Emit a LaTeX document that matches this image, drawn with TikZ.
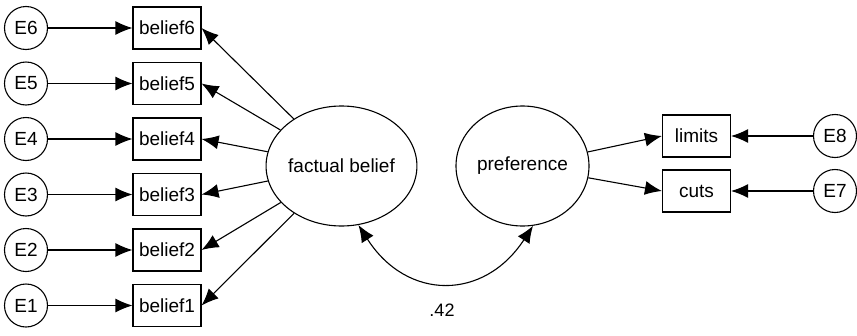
\documentclass[tikz,border=0pt]{standalone}
\usepackage{fontspec}
\setmainfont{Liberation Sans}
\usetikzlibrary{shapes.geometric,arrows.meta}
\begin{document}
\begin{tikzpicture}[x=1pt,y=-1pt,
  every node/.style={font=\fontsize{19}{19}\selectfont},
  errc/.style={draw,circle,line width=1.1pt,minimum size=43pt,inner sep=0pt},
  obsbox/.style={draw,rectangle,line width=1.1pt,minimum width=68pt,minimum height=42pt,inner sep=0pt},
  latent/.style={draw,ellipse,line width=1.1pt,minimum width=133pt,minimum height=120pt,inner sep=0pt},
  arr/.style={line width=1.1pt,-{Latex[length=17pt,width=14pt]}},
  cov/.style={line width=1.1pt,{Latex[length=17pt,width=14pt]}-{Latex[length=17pt,width=14pt]}}]
\useasboundingbox (0,0) rectangle (857,335);
% error terms left
\node[errc] (e6) at (26,28) {E6};
\node[errc] (e5) at (26,83.5) {E5};
\node[errc] (e4) at (26,139) {E4};
\node[errc] (e3) at (26,194.5) {E3};
\node[errc] (e2) at (26,250) {E2};
\node[errc] (e1) at (26,305.5) {E1};
% belief boxes
\node[obsbox] (b6) at (167,28) {belief6};
\node[obsbox] (b5) at (167,83.5) {belief5};
\node[obsbox] (b4) at (167,139) {belief4};
\node[obsbox] (b3) at (167,194.5) {belief3};
\node[obsbox] (b2) at (167,250) {belief2};
\node[obsbox] (b1) at (167,305.5) {belief1};
% latent
\node[latent] (fb) at (341.5,166) {factual belief};
\node[latent] (pref) at (522.5,166) {preference};
% right side
\node[obsbox] (lim) at (696.5,136) {limits};
\node[obsbox] (cuts) at (696.5,191) {cuts};
\node[errc] (e8) at (835,136) {E8};
\node[errc] (e7) at (835,191) {E7};
% error arrows
\foreach \i in {1,...,6} {\draw[arr] (e\i) -- (b\i);}
\draw[arr] (e8) -- (lim);
\draw[arr] (e7) -- (cuts);
% loadings
\foreach \i in {1,...,6} {\draw[arr] (fb) -- (b\i.east);}
\draw[arr] (pref) -- (lim.west);
\draw[arr] (pref) -- (cuts.west);
% covariance
\draw[cov] (fb.-74) .. controls (407,301) and (484,301) .. (pref.-80);
\node[font=\fontsize{18}{18}\selectfont] (r) at (442,310) {.42};
\end{tikzpicture}
\end{document}
